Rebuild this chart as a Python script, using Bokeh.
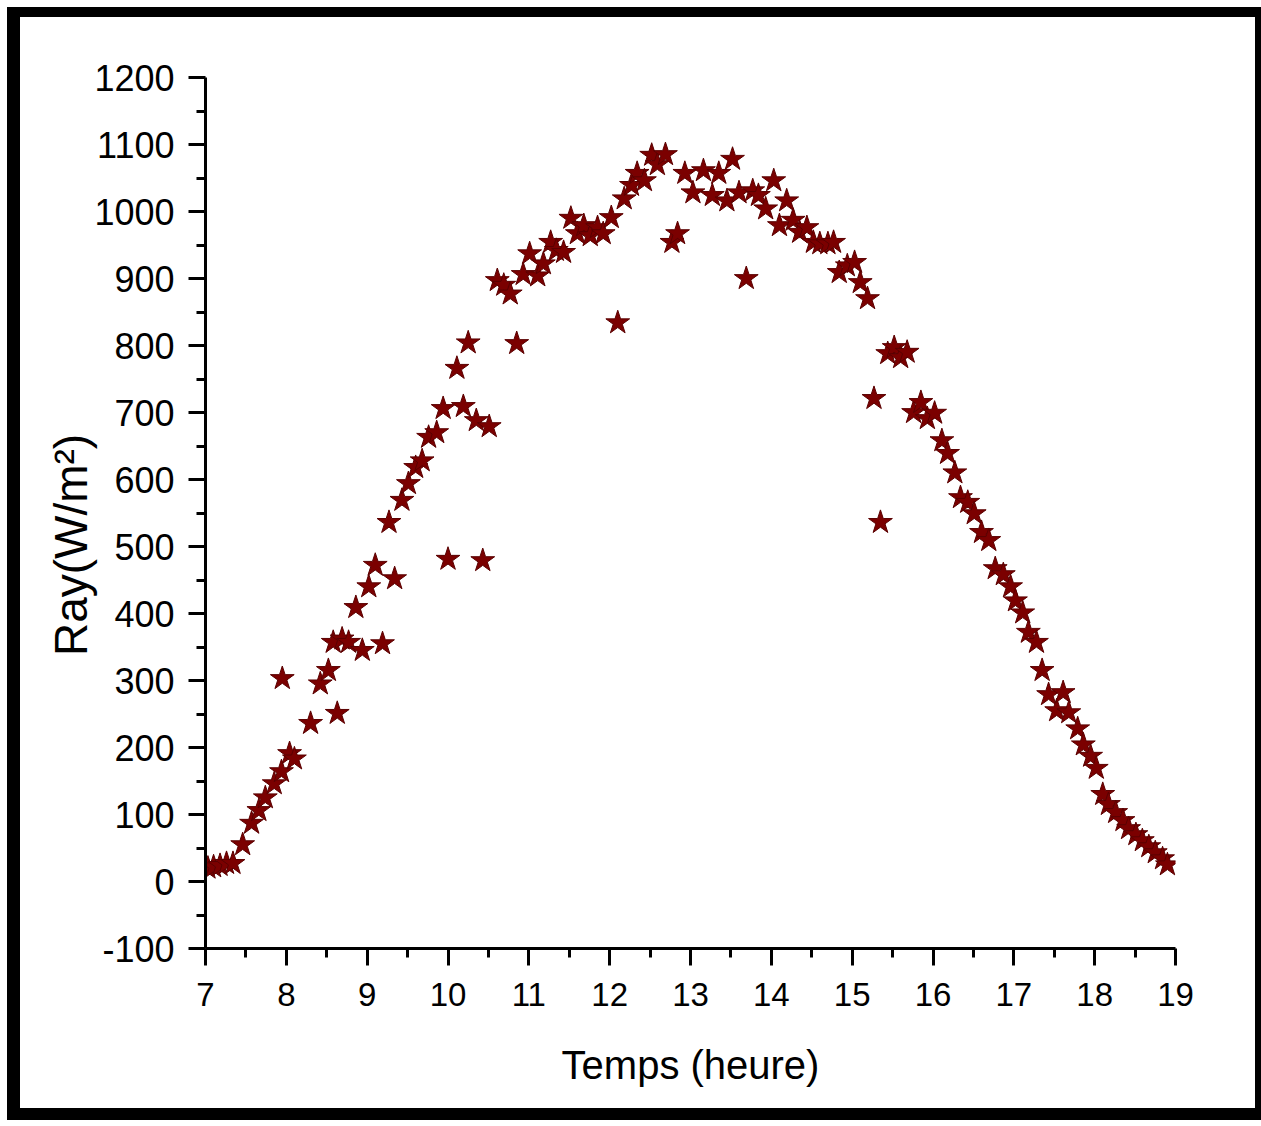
from bokeh.plotting import figure
from bokeh.models import Range1d, FixedTicker
from bokeh.embed import file_html
from bokeh.resources import INLINE

hours = [7.03, 7.10, 7.18, 7.26, 7.34, 7.46, 7.57, 7.66, 7.74, 7.85, 7.94, 7.95,
         8.04, 8.10, 8.30, 8.42, 8.52, 8.58, 8.63, 8.69, 8.77, 8.86, 8.94,
         9.02, 9.10, 9.19, 9.27, 9.34, 9.43, 9.51, 9.60, 9.68, 9.76, 9.86, 9.94,
         10.00, 10.11, 10.19, 10.25, 10.35, 10.43, 10.51, 10.61, 10.69, 10.77, 10.85, 10.93,
         11.01, 11.11, 11.18, 11.27, 11.34, 11.43, 11.52, 11.60, 11.68, 11.76, 11.85, 11.92,
         12.02, 12.10, 12.18, 12.27, 12.34, 12.43, 12.52, 12.59, 12.69, 12.77, 12.84, 12.93,
         13.03, 13.16, 13.27, 13.35, 13.45, 13.52, 13.60, 13.69, 13.77, 13.84, 13.93,
         14.03, 14.10, 14.19, 14.27, 14.35, 14.44, 14.52, 14.60, 14.70, 14.77, 14.84, 14.94,
         15.03, 15.10, 15.19, 15.27, 15.35, 15.44, 15.52, 15.60, 15.68, 15.76, 15.85, 15.93,
         16.02, 16.11, 16.18, 16.27, 16.34, 16.43, 16.51, 16.60, 16.69, 16.77, 16.87, 16.96,
         17.02, 17.11, 17.18, 17.28, 17.35, 17.43, 17.53, 17.61, 17.68, 17.79, 17.86, 17.95,
         18.02, 18.10, 18.17, 18.26, 18.35, 18.42, 18.51, 18.59, 18.67, 18.75, 18.84, 18.90]

ray = [20, 22, 24, 27, 27, 55, 87, 106, 125, 146, 164, 303,
       191, 183, 236, 295, 315, 357, 251, 362, 357, 409, 345,
       440, 472, 355, 536, 452, 569, 594, 618, 628, 663, 670, 706,
       481, 766, 709, 804, 688, 479, 679, 897, 890, 877, 803, 906,
       937, 904, 922, 954, 942, 939, 990, 967, 979, 964, 976, 967,
       991, 834, 1019, 1039, 1057, 1046, 1084, 1070, 1085, 954, 967, 1057,
       1028, 1061, 1024, 1057, 1016, 1078, 1028, 900, 1031, 1024, 1004,
       1046, 979, 1016, 987, 969, 976, 954, 952, 952, 954, 909, 919,
       924, 894, 870, 721, 536, 788, 797, 782, 790, 700, 715, 691,
       699, 658, 639, 610, 573, 566, 549, 521, 509, 467, 458, 440,
       419, 401, 372, 357, 315, 279, 255, 282, 252, 228, 204, 187,
       169, 130, 115, 103, 91, 79, 70, 61, 52, 43, 34, 25]

x_ticks = list(range(7, 20))
y_ticks = list(range(-100, 1201, 100))
x_minor = [t + 0.5 for t in x_ticks[:-1]]
y_minor = [t + 50 for t in y_ticks[:-1]]

FONT = "Liberation Sans"

p = figure(width=1254, height=1113, output_backend="svg", toolbar_location=None,
           x_range=Range1d(7, 19), y_range=Range1d(-100, 1200),
           min_border_left=185, min_border_right=99, min_border_top=60,
           min_border_bottom=182)
p.styles = {"border-style": "solid", "border-color": "black",
            "border-width": "10px 6px 12px 13px",
            "margin-left": "7px", "margin-top": "7px"}

p.scatter(hours, ray, marker="star", size=25, fill_color="#7b0000",
          line_color="#5a0000", line_width=1)

p.grid.visible = False
p.outline_line_color = None
p.background_fill_color = "white"
p.border_fill_color = "white"

p.xaxis.ticker = FixedTicker(ticks=x_ticks, minor_ticks=x_minor)
p.yaxis.ticker = FixedTicker(ticks=y_ticks, minor_ticks=y_minor)
p.yaxis.major_label_overrides = {-100: "-100"}

for ax in (p.xaxis[0], p.yaxis[0]):
    ax.axis_line_width = 3
    ax.axis_line_color = "black"
    ax.major_tick_line_width = 3
    ax.minor_tick_line_width = 3
    ax.major_tick_in = 0
    ax.major_tick_out = 17
    ax.minor_tick_in = 0
    ax.minor_tick_out = 9
    ax.major_label_text_font = FONT
    ax.axis_label_text_font = FONT
    ax.axis_label_text_font_style = "normal"
    ax.major_label_text_color = "black"
    ax.axis_label_text_color = "black"

p.xaxis.major_label_text_font_size = "33px"
p.yaxis.major_label_text_font_size = "36px"
p.xaxis.major_label_standoff = 17
p.yaxis.major_label_standoff = 14
p.xaxis.axis_label = "Temps (heure)"
p.yaxis.axis_label = "Ray(W/m²)" + "\u00a0" * 5
p.xaxis.axis_label_text_font_size = "40px"
p.yaxis.axis_label_text_font_size = "46px"
p.xaxis.axis_label_standoff = 34
p.yaxis.axis_label_standoff = -6

open("out.html", "w").write(file_html(p, INLINE))
